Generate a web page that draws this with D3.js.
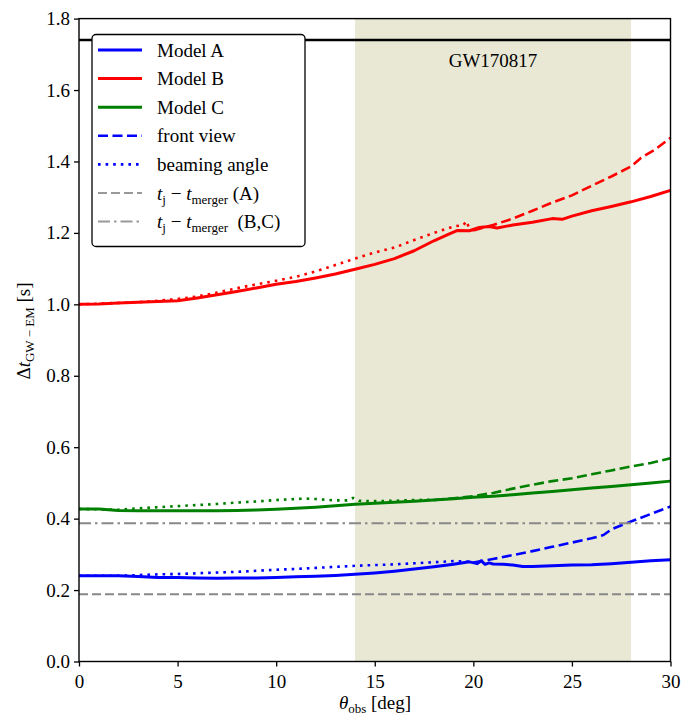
<!DOCTYPE html>
<html>
<head>
<meta charset="utf-8">
<script src="https://cdn.jsdelivr.net/npm/d3@7"></script>
<style>
  html, body { margin: 0; padding: 0; background: #fff; }
  svg text { font-family: "Liberation Serif", "Times New Roman", Times, serif; fill: #000; }
</style>
</head>
<body>
<svg id="chart" width="683" height="717" font-family="Liberation Serif, Times New Roman, serif"></svg>
<script>
// ---- data: observer angle [deg] vs. GW-EM delay [s] ----
const xTicks = [0, 5, 10, 15, 20, 25, 30];
const yTicks = [0.0, 0.2, 0.4, 0.6, 0.8, 1.0, 1.2, 1.4, 1.6, 1.8];

// Model A
const thetaA = [0,1,2,3,4,5,6,7,8,9,10,11,12,13,14,15,16,17,18,19,19.8,20.2,20.4,20.6,20.8,21,21.5,22,22.5,23,24,25,26,27,28,29,30];
const delayA = [0.240,0.240,0.240,0.238,0.235,0.235,0.234,0.233,0.234,0.234,0.235,0.237,0.239,0.241,0.244,0.248,0.253,0.259,0.265,0.272,0.279,0.274,0.282,0.272,0.276,0.273,0.272,0.270,0.266,0.266,0.268,0.270,0.271,0.274,0.278,0.282,0.285];
const thetaAFront = [20,21,22,23,24,25,26,26.6,27,28,29,30];
const delayAFront = [0.277,0.287,0.298,0.309,0.321,0.333,0.345,0.354,0.370,0.392,0.413,0.434];
const thetaABeam = [0,2,3,4,5,6,7,8,9,10,11,12,13,14,15,16,17,18,19,20];
const delayABeam = [0.240,0.240,0.242,0.244,0.245,0.247,0.249,0.251,0.254,0.257,0.259,0.262,0.265,0.268,0.270,0.272,0.275,0.278,0.281,0.279];

// Model B
const thetaB = [0,1,2,3,4,5,6,7,8,9,10,11,12,13,14,15,16,17,18,18.7,19.2,19.8,20.3,20.8,21.2,21.7,22,23,24,24.5,25,26,27,28,29,30];
const delayB = [1.000,1.001,1.004,1.006,1.008,1.010,1.018,1.027,1.036,1.046,1.056,1.064,1.074,1.085,1.098,1.112,1.128,1.150,1.178,1.195,1.207,1.206,1.215,1.218,1.214,1.219,1.222,1.230,1.240,1.238,1.247,1.262,1.274,1.287,1.302,1.319];
const thetaBFront = [20,21,22,23,24,25,26,27,28,28.5,29.2,30];
const delayBFront = [1.207,1.222,1.240,1.262,1.285,1.305,1.332,1.358,1.386,1.410,1.433,1.466];
const thetaBBeam = [0,3,4,5,6,7,8,9,10,11,12,13,14,15,16,17,18,19,19.5,19.65,19.8,20];
const delayBBeam = [1.000,1.006,1.010,1.015,1.022,1.033,1.045,1.056,1.066,1.077,1.092,1.110,1.128,1.145,1.159,1.180,1.200,1.218,1.222,1.233,1.212,1.207];

// Model C
const thetaC = [0,1,2,3,4,5,6,7,8,9,10,11,12,13,14,15,16,17,18,19,20,21,22,23,24,25,26,27,28,29,30];
const delayC = [0.427,0.427,0.423,0.422,0.422,0.422,0.422,0.422,0.423,0.424,0.426,0.429,0.432,0.436,0.440,0.443,0.446,0.449,0.452,0.456,0.460,0.463,0.467,0.472,0.476,0.481,0.486,0.490,0.495,0.500,0.505];
const thetaCFront = [18,19,20,21,22,23,24,25,26,27,28,29,30];
const delayCFront = [0.452,0.457,0.463,0.472,0.484,0.495,0.505,0.513,0.524,0.535,0.546,0.556,0.569];
const thetaCBeam = [0,2,3,4,5,6,7,8,9,10,11,11.5,12,13,13.6,13.9,14.2,15,16,17,18];
const delayCBeam = [0.427,0.425,0.429,0.432,0.435,0.438,0.441,0.445,0.448,0.452,0.455,0.456,0.455,0.451,0.451,0.458,0.450,0.449,0.450,0.452,0.453];

// reference levels
const jetTimeA = 0.188;      // t_j - t_merger (A)
const jetTimeBC = 0.387;     // t_j - t_merger (B,C)
const gwDelay = 1.74;        // GW170817
const gwRange = [14, 28];    // allowed viewing angles
const gwLabel = "GW170817";

// ---- layout ----
const svg = d3.select("#chart");
const L = 79, R = 670.5, T = 18.6, B = 661.5;
const x = d3.scaleLinear().domain([0, 30]).range([L, R]);
const y = d3.scaleLinear().domain([0, 1.8]).range([B, T]);
const FS = 19;
const SERIF = '"Liberation Serif", "Times New Roman", serif';

const line = (xs, ys) => d3.line().x((d, i) => x(xs[i])).y((d, i) => y(ys[i]))(ys);

// shaded angle range
svg.append("rect")
  .attr("x", x(gwRange[0])).attr("y", T)
  .attr("width", x(gwRange[1]) - x(gwRange[0])).attr("height", B - T)
  .attr("fill", "#e8e8d5");

const plot = svg.append("g");

const styles = {
  solid: { w: 3, dash: null },
  front: { w: 2.6, dash: "10,4.5" },
  beam:  { w: 2.6, dash: "2.6,5" }
};
const series = [
  { xs: thetaA, ys: delayA, c: "#0000ff", s: "solid" },
  { xs: thetaAFront, ys: delayAFront, c: "#0000ff", s: "front" },
  { xs: thetaABeam, ys: delayABeam, c: "#0000ff", s: "beam" },
  { xs: thetaB, ys: delayB, c: "#ff0000", s: "solid" },
  { xs: thetaBFront, ys: delayBFront, c: "#ff0000", s: "front" },
  { xs: thetaBBeam, ys: delayBBeam, c: "#ff0000", s: "beam" },
  { xs: thetaC, ys: delayC, c: "#008000", s: "solid" },
  { xs: thetaCFront, ys: delayCFront, c: "#008000", s: "front" },
  { xs: thetaCBeam, ys: delayCBeam, c: "#008000", s: "beam" }
];
series.forEach(d => {
  const st = styles[d.s];
  plot.append("path")
    .attr("d", line(d.xs, d.ys))
    .attr("fill", "none")
    .attr("stroke", d.c)
    .attr("stroke-width", st.w)
    .attr("stroke-linejoin", "round")
    .attr("stroke-dasharray", st.dash);
});

// horizontal reference lines
svg.append("line").attr("x1", L).attr("x2", R)
  .attr("y1", y(jetTimeA)).attr("y2", y(jetTimeA))
  .attr("stroke", "#888").attr("stroke-width", 2).attr("stroke-dasharray", "9,4");
svg.append("line").attr("x1", L).attr("x2", R)
  .attr("y1", y(jetTimeBC)).attr("y2", y(jetTimeBC))
  .attr("stroke", "#888").attr("stroke-width", 2).attr("stroke-dasharray", "12,4,2.5,4");
svg.append("line").attr("x1", L).attr("x2", R)
  .attr("y1", y(gwDelay)).attr("y2", y(gwDelay))
  .attr("stroke", "#000").attr("stroke-width", 2.6);
svg.append("text")
  .attr("x", x(21)).attr("y", y(1.664))
  .attr("text-anchor", "middle").attr("font-size", FS)
  .style("font-family", SERIF)
  .text(gwLabel);

// ---- axes ----
const xAxis = d3.axisBottom(x).tickValues(xTicks).tickFormat(d3.format("d")).tickSize(5).tickPadding(4);
const yAxis = d3.axisLeft(y).tickValues(yTicks).tickFormat(d3.format(".1f")).tickSize(5).tickPadding(4);
const gx = svg.append("g").attr("transform", `translate(0,${B})`).call(xAxis);
const gy = svg.append("g").attr("transform", `translate(${L},0)`).call(yAxis);
[gx, gy].forEach(g => {
  g.attr("font-family", SERIF);
  g.select(".domain").remove();
  g.selectAll("line").attr("stroke", "#000").attr("stroke-width", 1.3);
  g.selectAll("text").attr("font-size", FS)
    .style("font-family", SERIF).attr("fill", "#000");
});
gx.selectAll("text").attr("dy", "0.9em");

// frame
svg.append("rect").attr("x", L).attr("y", T).attr("width", R - L).attr("height", B - T)
  .attr("fill", "none").attr("stroke", "#000").attr("stroke-width", 1.4);

// axis labels
const xl = svg.append("text").attr("x", 375).attr("y", 709)
  .attr("text-anchor", "middle").attr("font-size", FS).style("font-family", SERIF);
xl.append("tspan").attr("font-style", "italic").text("θ");
xl.append("tspan").attr("font-size", 13).attr("dy", 4).text("obs");
xl.append("tspan").attr("dy", -4).text(" [deg]");

const yl = svg.append("text")
  .attr("transform", "translate(30,331) rotate(-90)")
  .attr("text-anchor", "middle").attr("font-size", FS).style("font-family", SERIF);
yl.append("tspan").text("Δ");
yl.append("tspan").attr("font-style", "italic").text("t");
yl.append("tspan").attr("font-size", 13).attr("dy", 4).text("GW − EM");
yl.append("tspan").attr("dy", -4).text(" [s]");

// ---- legend ----
const leg = svg.append("g");
leg.append("rect").attr("x", 92).attr("y", 34.5).attr("width", 213).attr("height", 212)
  .attr("rx", 4).attr("fill", "#fff").attr("stroke", "#000").attr("stroke-width", 1.3);

const legendItems = [
  { c: "#0000ff", w: 3, dash: null, label: [["Model A"]] },
  { c: "#ff0000", w: 3, dash: null, label: [["Model B"]] },
  { c: "#008000", w: 3, dash: null, label: [["Model C"]] },
  { c: "#0000ff", w: 2.6, dash: "10,4.5", label: [["front view"]] },
  { c: "#0000ff", w: 2.6, dash: "2.6,5", label: [["beaming angle"]] },
  { c: "#999", w: 2, dash: "9,4", label: [["t", "i"], ["j", "sub"], [" − ", ""], ["t", "i"], ["merger", "sub"], [" (A)", ""]] },
  { c: "#999", w: 2, dash: "12,4,2.5,4", label: [["t", "i"], ["j", "sub"], [" − ", ""], ["t", "i"], ["merger", "sub"], ["  (B,C)", ""]] }
];
legendItems.forEach((d, i) => {
  const cy = 50 + i * 28.6;
  leg.append("line").attr("x1", 98).attr("x2", 142).attr("y1", cy).attr("y2", cy)
    .attr("stroke", d.c).attr("stroke-width", d.w).attr("stroke-dasharray", d.dash);
  const t = leg.append("text").attr("x", 157).attr("y", cy + 6.5).attr("font-size", FS)
    .style("font-family", SERIF)
    .attr("xml:space", "preserve").style("white-space", "pre");
  let sub = false;
  d.label.forEach(([s, k]) => {
    const ts = t.append("tspan").text(s);
    if (k === "i") ts.attr("font-style", "italic");
    if (k === "sub") { ts.attr("font-size", 13).attr("dy", sub ? 0 : 4); sub = true; }
    else if (sub) { ts.attr("dy", -4); sub = false; }
  });
});
</script>
</body>
</html>
